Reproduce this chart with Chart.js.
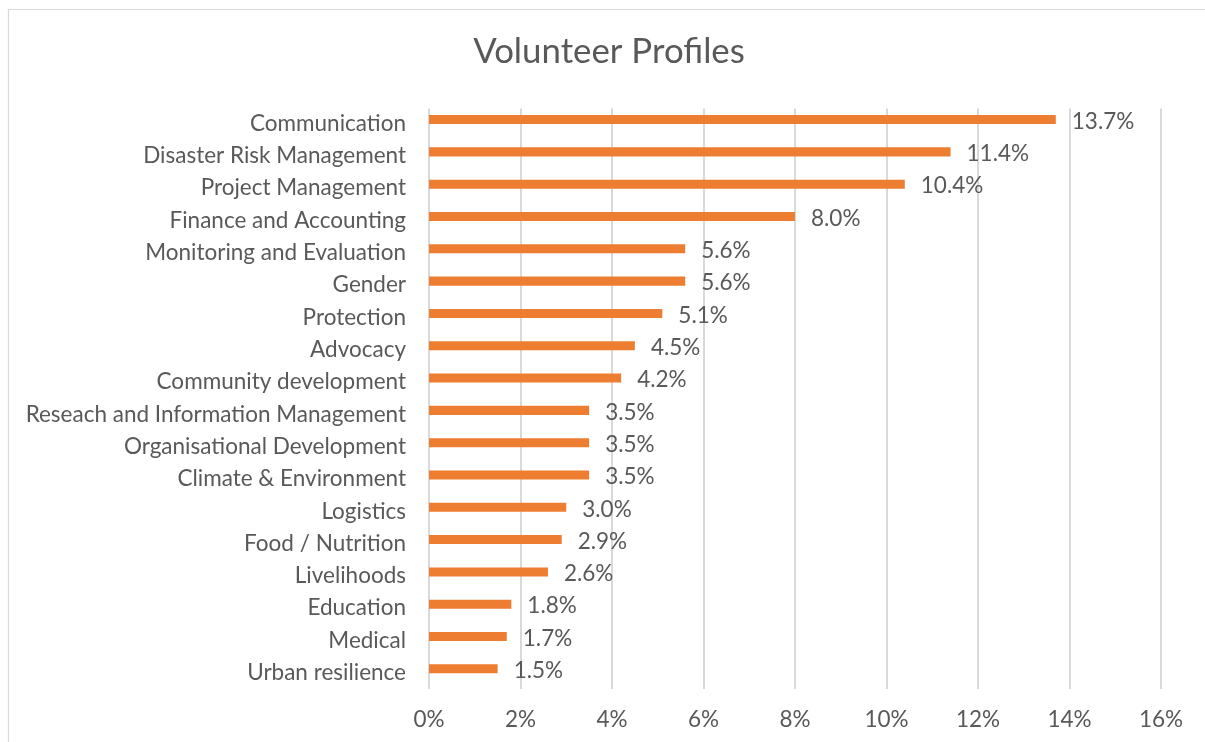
<!DOCTYPE html>
<html>
<head>
<meta charset="utf-8">
<script src="https://cdn.jsdelivr.net/npm/chart.js@4.4.1/dist/chart.umd.min.js"></script>
<style>
  html, body { margin: 0; padding: 0; background: #ffffff; }
  #wrap { width: 1205px; height: 742px; position: relative; }
</style>
</head>
<body>
<div id="wrap"><canvas id="c" width="1205" height="742"></canvas></div>
<script>
const titleText = 'Volunteer Profiles';
const categories = [
  'Communication',
  'Disaster Risk Management',
  'Project Management',
  'Finance and Accounting',
  'Monitoring and Evaluation',
  'Gender',
  'Protection',
  'Advocacy',
  'Community development',
  'Reseach and Information Management',
  'Organisational Development',
  'Climate & Environment',
  'Logistics',
  'Food / Nutrition',
  'Livelihoods',
  'Education',
  'Medical',
  'Urban resilience'
];
const shares = [13.7, 11.4, 10.4, 8.0, 5.6, 5.6, 5.1, 4.5, 4.2, 3.5, 3.5, 3.5, 3.0, 2.9, 2.6, 1.8, 1.7, 1.5];
const xTicksMax = 16;
const xTickStep = 2;

const TEXT = '#595959';
const GRID = '#D9D9D9';
const FONT = 'Lato, "Open Sans", sans-serif';
const FS = 22.5;

const frame = {
  id: 'frame',
  beforeDraw(chart) {
    const ctx = chart.ctx;
    ctx.save();
    ctx.strokeStyle = GRID;
    ctx.lineWidth = 1.2;
    ctx.beginPath();
    ctx.moveTo(8.5, 742);
    ctx.lineTo(8.5, 9.5);
    ctx.lineTo(1205, 9.5);
    ctx.stroke();
    ctx.restore();
  }
};

const titleDraw = {
  id: 'titleDraw',
  afterDraw(chart) {
    const ctx = chart.ctx;
    ctx.save();
    ctx.fillStyle = TEXT;
    ctx.font = '34.8px ' + FONT;
    ctx.textAlign = 'center';
    ctx.textBaseline = 'middle';
    ctx.fillText(titleText, 609, 52);
    ctx.restore();
  }
};

const grid = {
  id: 'gridlines',
  beforeDatasetsDraw(chart) {
    const ctx = chart.ctx;
    const xs = chart.scales.x;
    const area = chart.chartArea;
    ctx.save();
    ctx.strokeStyle = GRID;
    ctx.lineWidth = 2;
    xs.ticks.forEach(t => {
      const x = Math.round(xs.getPixelForValue(t.value));
      ctx.beginPath();
      ctx.moveTo(x, area.top + 5);
      ctx.lineTo(x, area.bottom + 4);
      ctx.stroke();
    });
    ctx.restore();
  }
};

const valueLabels = {
  id: 'valueLabels',
  afterDatasetsDraw(chart) {
    const ctx = chart.ctx;
    const meta = chart.getDatasetMeta(0);
    ctx.save();
    ctx.fillStyle = TEXT;
    ctx.font = FS + 'px ' + FONT;
    ctx.textAlign = 'left';
    ctx.textBaseline = 'middle';
    meta.data.forEach((bar, i) => {
      ctx.fillText(shares[i].toFixed(1) + '%', bar.x + 16, bar.y + 2);
    });
    ctx.restore();
  }
};

new Chart(document.getElementById('c'), {
  type: 'bar',
  data: {
    labels: categories,
    datasets: [{
      data: shares,
      backgroundColor: '#ED7D31',
      borderWidth: 0,
      barPercentage: 0.56,
      categoryPercentage: 0.5
    }]
  },
  options: {
    indexAxis: 'y',
    responsive: false,
    animation: false,
    devicePixelRatio: 1,
    layout: { padding: { left: 0, right: 44, top: 103.4, bottom: 0 } },
    plugins: {
      legend: { display: false },
      tooltip: { enabled: false },
      title: { display: false }
    },
    scales: {
      x: {
        min: 0,
        max: xTicksMax,
        grid: { display: false, drawTicks: false },
        border: { display: false },
        ticks: {
          stepSize: xTickStep,
          color: TEXT,
          font: { family: FONT, size: FS },
          padding: 21,
          callback: v => v + '%'
        },
        afterFit(s) { s.height = 57; }
      },
      y: {
        grid: { display: false, drawTicks: false },
        border: { display: false },
        ticks: {
          color: TEXT,
          font: { family: FONT, size: FS },
          padding: 23,
          labelOffset: 4,
          autoSkip: false
        },
        afterFit(s) { s.width = 429; }
      }
    }
  },
  plugins: [frame, grid, valueLabels, titleDraw]
});
</script>
</body>
</html>
